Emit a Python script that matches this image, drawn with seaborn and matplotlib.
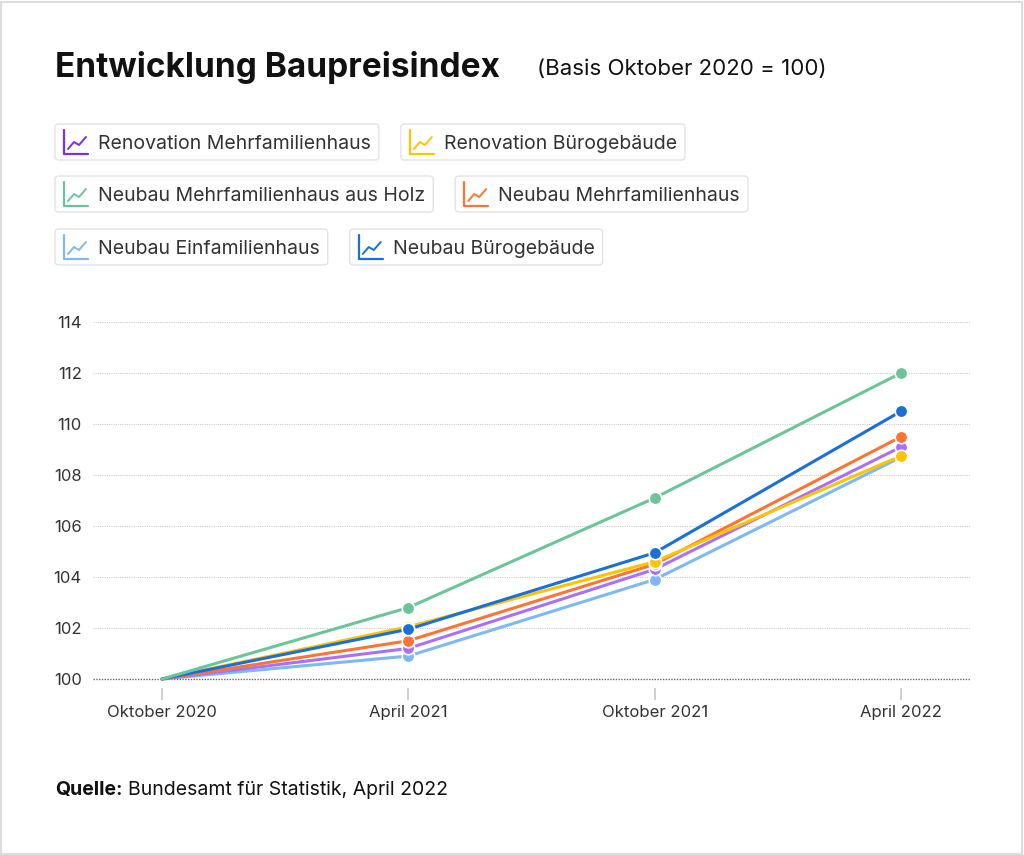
import pandas as pd
import numpy as np
import matplotlib.pyplot as plt
import seaborn as sns
from matplotlib.lines import Line2D
from matplotlib.patches import FancyBboxPatch, Rectangle

# Daten
perioden = ['Oktober 2020', 'April 2021', 'Oktober 2021', 'April 2022']
serien = ['Renovation Mehrfamilienhaus', 'Renovation Bürogebäude',
          'Neubau Mehrfamilienhaus aus Holz', 'Neubau Mehrfamilienhaus',
          'Neubau Einfamilienhaus', 'Neubau Bürogebäude']
renovation_mfh = [100, 101.2, 104.3, 109.1]
renovation_buero = [100, 102.05, 104.6, 108.75]
neubau_mfh_holz = [100, 102.8, 107.1, 112.0]
neubau_mfh = [100, 101.5, 104.5, 109.5]
neubau_efh = [100, 100.9, 103.9, 108.7]
neubau_buero = [100, 101.95, 104.95, 110.5]
farben = ['#a970ff', '#ffc400', '#6cc59a', '#ff7433', '#7db9f5', '#1a6fd8']
icon_farben = ['#7b2cf5', '#ffc400', '#6cc59a', '#ff7433', '#7db9f5', '#1a6fd8']
y_ticks = [100, 102, 104, 106, 108, 110, 112, 114]
# Reihenfolge beim Zeichnen (unten -> oben)
zeichen_reihenfolge = [4, 0, 3, 1, 5, 2]

werte = [renovation_mfh, renovation_buero, neubau_mfh_holz, neubau_mfh, neubau_efh, neubau_buero]
rows = []
for name, vals in zip(serien, werte):
    for p, v in zip(perioden, vals):
        rows.append({'Periode': p, 'Index': v, 'Serie': name})
df = pd.DataFrame(rows)

sns.set_style('white')
plt.rcParams['font.family'] = ['Inter', 'DejaVu Sans']

W, H = 1024, 855
fig = plt.figure(figsize=(W / 100, H / 100), dpi=100)


def px(x, y):
    return x / W, 1 - y / H


ax = fig.add_axes([93 / W, 1 - 679 / H, (970 - 93) / W, (679 - 322) / H])

sns.lineplot(data=df, x='Periode', y='Index', hue='Serie',
             hue_order=[serien[i] for i in zeichen_reihenfolge],
             palette=dict(zip(serien, farben)), marker='o', markersize=9,
             markeredgecolor='white', markeredgewidth=1.2, linewidth=2.2,
             sort=False, legend=False, ax=ax)
for l in ax.lines:
    l.set_clip_on(False)
    l.set_markevery([1, 2, 3])  # kein Punkt am Basiswert

ax.set_xlim(-0.28, 3.28)
ax.set_ylim(100, 114)
ax.set_yticks(y_ticks)
ax.set_xticks(range(len(perioden)))
ax.set_xticklabels(perioden)
ax.set_xlabel('')
ax.set_ylabel('')
for yv in y_ticks[1:]:
    ax.axhline(yv, color='#cccccc', lw=0.8, ls=(0, (1, 1)), zorder=0)
ax.axhline(100, color='#666666', lw=1.0, ls=(0, (1, 1)), zorder=0, clip_on=False)
for s in ['top', 'right', 'left']:
    ax.spines[s].set_visible(False)
ax.spines['bottom'].set_position(('outward', 6.5))
ax.spines['bottom'].set_color('none')
ax.tick_params(axis='x', bottom=True, length=8.5, width=1.3, color='#cccccc', pad=4,
               labelsize=12, labelcolor='#333333')
ax.tick_params(axis='y', left=False, length=0, pad=8, labelsize=12, labelcolor='#333333')

# Titel
fig.text(*px(55, 77), 'Entwicklung Baupreisindex', fontsize=24, fontweight='bold',
         color='#111111', va='baseline')
fig.text(*px(537, 75), '(Basis Oktober 2020 = 100)', fontsize=16,
         color='#111111', va='baseline')

# Legende als Kästchen
fig.canvas.draw()
renderer = fig.canvas.get_renderer()
reihen = [(142, [0, 1]), (194, [2, 3]), (247, [4, 5])]
for yc, idxs in reihen:
    x0 = 55
    for i in idxs:
        t = fig.text(*px(x0 + 43, yc), serien[i], fontsize=14, color='#333333',
                     va='center_baseline')
        bb = t.get_window_extent(renderer)
        x1 = x0 + 43 + bb.width + 8
        fig.add_artist(FancyBboxPatch(px(x0, yc + 18), (x1 - x0) / W, 36 / H,
                                      boxstyle='round,pad=0,rounding_size=0.004',
                                      transform=fig.transFigure, fc='white',
                                      ec='#e3e3e3', lw=1, zorder=0))
        c = icon_farben[i]
        xs = [x0 + 9, x0 + 9, x0 + 33]
        ys = [yc - 12, yc + 12, yc + 12]
        fig.add_artist(Line2D([x / W for x in xs], [1 - y / H for y in ys],
                              color=c, lw=1.6, transform=fig.transFigure))
        xs = [x0 + 13, x0 + 19, x0 + 24, x0 + 31]
        ys = [yc + 7, yc, yc + 3, yc - 5]
        fig.add_artist(Line2D([x / W for x in xs], [1 - y / H for y in ys],
                              color=c, lw=1.4, transform=fig.transFigure))
        x0 = x1 + 22

# Quelle
q = fig.text(*px(55, 795), 'Quelle:', fontsize=14, fontweight='bold', color='#111111',
             va='baseline')
qb = q.get_window_extent(renderer)
fig.text(*px(55 + qb.width + 5, 795), 'Bundesamt für Statistik, April 2022',
         fontsize=14, color='#111111', va='baseline')

# Rahmen
fig.add_artist(Rectangle((0.001, 0.001), 0.997, 0.997, transform=fig.transFigure,
                         fc='none', ec='#dddddd', lw=1.5))

plt.savefig('out.png', dpi=100)
